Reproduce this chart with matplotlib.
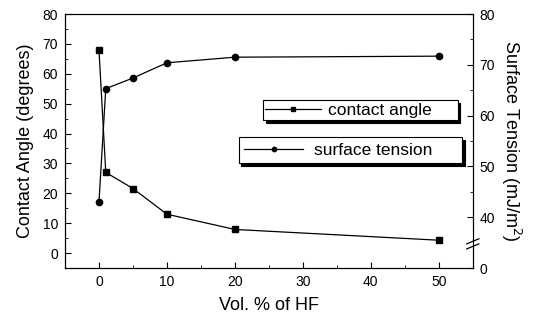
import numpy as np
import matplotlib
matplotlib.use("Agg")
import matplotlib.pyplot as plt
from matplotlib.ticker import MultipleLocator, FixedLocator

plt.rcParams['font.family'] = ['Liberation Sans', 'DejaVu Sans']

# data
hf_vol = [0, 1, 5, 10, 20, 50]
contact_angle = [68, 27, 21.6, 13, 7.9, 4.3]
surface_tension = [43, 65.3, 67.4, 70.4, 71.5, 71.7]

right_ticks = [30, 40, 50, 60, 70, 80]
right_labels = ['0', '40', '50', '60', '70', '80']

fig = plt.figure(figsize=(5.38, 3.22), dpi=100)
ax = fig.add_axes([0.1208, 0.1677, 0.758, 0.7888])
ax2 = ax.twinx()

l1, = ax.plot(hf_vol, contact_angle, color='black', lw=0.9, marker='s', markersize=4.5,
              label='contact angle')
l2, = ax2.plot(hf_vol, surface_tension, color='black', lw=0.9, marker='o', markersize=4.5,
               label='surface tension')

ax.set_xlim(-5, 55)
ax.set_ylim(-5, 80)
ax2.set_ylim(30, 80)

ax.xaxis.set_major_locator(MultipleLocator(10))
ax.xaxis.set_minor_locator(MultipleLocator(5))
ax.yaxis.set_major_locator(FixedLocator([0, 10, 20, 30, 40, 50, 60, 70, 80]))
ax.yaxis.set_minor_locator(MultipleLocator(5))
ax2.yaxis.set_major_locator(FixedLocator(right_ticks))
ax2.set_yticklabels(right_labels)
ax2.yaxis.set_minor_locator(FixedLocator([45, 55, 65, 75]))

ax.tick_params(which='both', direction='in', top=False, right=False, labelsize=10, pad=5)
ax.tick_params(which='major', length=4)
ax.tick_params(which='minor', length=2)
ax2.tick_params(which='both', direction='in', labelsize=10, pad=5)
ax2.tick_params(which='major', length=4)
ax2.tick_params(which='minor', length=2)

ax.set_xlabel('Vol. % of HF', fontsize=13, labelpad=6)
ax.set_ylabel('Contact Angle (degrees)', fontsize=13, labelpad=6)
ax2.set_ylabel('Surface Tension (mJ/m$^2$)', fontsize=13, rotation=270, labelpad=20)

# break marks on the right axis
for yb in (0.085, 0.105):
    ax2.plot([0.985, 1.015], [yb - 0.01, yb + 0.01], transform=ax2.transAxes,
             color='black', lw=0.9, clip_on=False)
ax2.plot([1.0, 1.0], [0.085, 0.105], transform=ax2.transAxes, color='white',
         lw=2, clip_on=False, zorder=0)

shadow = {'color': 'black', 'alpha': 1, 'ox': 2, 'oy': -2}
leg1 = ax2.legend(handles=[l1], loc='upper left', bbox_to_anchor=(0.485, 0.575, 0.478, 0.086),
                  mode='expand', borderaxespad=0,
                  fontsize=12.5, frameon=True, fancybox=False, shadow=shadow,
                  handlelength=3.2, handletextpad=0.4, markerscale=0.7,
                  borderpad=0.15, edgecolor='black')
leg1.get_frame().set_linewidth(0.8)
ax2.add_artist(leg1)
leg2 = ax2.legend(handles=[l2], loc='upper left', bbox_to_anchor=(0.426, 0.406, 0.547, 0.11),
                  mode='expand', borderaxespad=0,
                  fontsize=12.5, frameon=True, fancybox=False, shadow=shadow,
                  handlelength=3.4, handletextpad=0.6, markerscale=0.7,
                  borderpad=0.32, edgecolor='black')
leg2.get_frame().set_linewidth(0.8)

fig.savefig('out.png', dpi=100)
